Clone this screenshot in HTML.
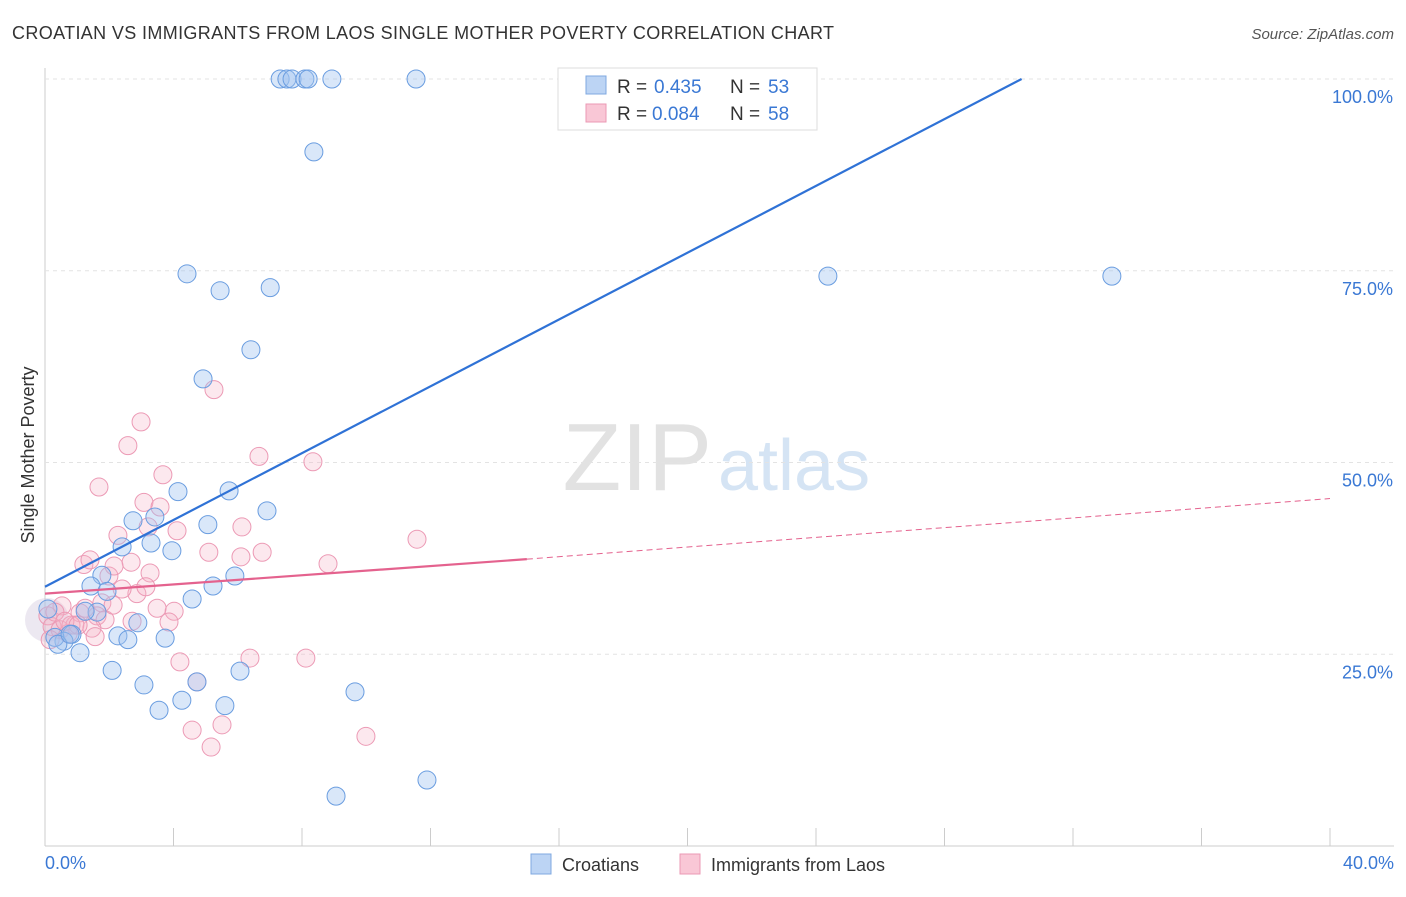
<!DOCTYPE html>
<html><head><meta charset="utf-8"><style>
body{margin:0;background:#fff;font-family:"Liberation Sans",sans-serif}
svg text{font-family:"Liberation Sans",sans-serif}
</style></head><body>
<svg id="c" width="1406" height="892">
<text x="12" y="39" font-size="18" fill="#333" textLength="822">CROATIAN VS IMMIGRANTS FROM LAOS SINGLE MOTHER POVERTY CORRELATION CHART</text>
<text x="1394" y="39" font-size="15" fill="#555" text-anchor="end" font-style="italic">Source: ZipAtlas.com</text>
<text x="712" y="490" font-size="96" fill="#e2e2e2" text-anchor="end" font-family="Liberation Serif">ZIP</text>
<text x="718" y="490" font-size="72" fill="#d5e4f4">atlas</text>
<g id="grid"></g><g id="pts"></g><g id="lines"></g>
<text x="34" y="455" font-size="18" fill="#333" text-anchor="middle" transform="rotate(-90 34 455)">Single Mother Poverty</text>
<text x="45" y="869" font-size="18" fill="#3a78d4">0.0%</text>
<text x="1394" y="869" font-size="18" fill="#3a78d4" text-anchor="end">40.0%</text>
<g>
<rect x="558" y="68" width="259" height="62" fill="#fff" stroke="#ddd"/>
<rect x="586" y="76" width="20" height="18" fill="#bcd4f4" stroke="#7fa8e0"/>
<rect x="586" y="104" width="20" height="18" fill="#f9c7d6" stroke="#eb9ab4"/>
<text x="617" y="93" font-size="19" fill="#333">R =</text>
<text x="654" y="93" font-size="19" fill="#3a78d4">0.435</text>
<text x="730" y="93" font-size="19" fill="#333">N =</text>
<text x="768" y="93" font-size="19" fill="#3a78d4">53</text>
<text x="617" y="120" font-size="19" fill="#333">R =</text>
<text x="652" y="120" font-size="19" fill="#3a78d4">0.084</text>
<text x="730" y="120" font-size="19" fill="#333">N =</text>
<text x="768" y="120" font-size="19" fill="#3a78d4">58</text>
</g>
<g>
<rect x="531" y="854" width="20" height="20" fill="#bcd4f4" stroke="#7fa8e0"/>
<text x="562" y="871" font-size="18" fill="#333">Croatians</text>
<rect x="680" y="854" width="20" height="20" fill="#f9c7d6" stroke="#eb9ab4"/>
<text x="711" y="871" font-size="18" fill="#333">Immigrants from Laos</text>
</g>
</svg>
<script>
const yTicks=[25,50,75,100];
const xTicks=[0,4,8,12,16,20,24,28,32,36,40];
const blueX=[7.32,7.53,7.69,8.09,8.19,8.93,11.55,8.37,4.42,5.45,7.01,24.37,33.21,6.41,4.92,4.14,5.73,6.91,3.42,2.74,5.07,3.30,2.40,3.95,1.77,5.91,1.43,5.23,1.93,4.58,1.62,2.89,1.25,2.27,2.58,3.74,0.84,0.59,0.31,0.40,1.09,2.09,3.08,4.26,3.55,5.60,4.73,6.07,9.65,9.06,11.89,0.09,0.78];
const blueY=[100,100,100,100,100,100,100,90.5,74.6,72.4,72.8,74.3,74.3,64.7,60.9,46.2,46.3,43.7,42.9,42.4,41.9,39.5,39.0,38.5,35.3,35.2,33.9,33.9,33.2,32.2,30.5,29.1,30.6,27.4,26.9,27.1,27.6,26.7,27.2,26.3,25.2,22.9,21.0,19.0,17.7,18.3,21.4,22.8,20.1,6.5,8.6,30.9,27.6];
const pinkX=[2.99,5.26,2.58,1.68,3.67,6.66,8.34,3.08,4.11,6.13,3.21,3.58,2.27,5.10,6.76,1.21,1.40,2.68,6.10,8.81,11.58,1.99,2.15,3.27,2.86,3.14,1.77,3.49,4.02,1.09,1.62,3.86,2.71,1.87,0.93,1.46,1.56,0.09,0.22,0.47,0.72,0.81,4.20,6.38,8.12,4.73,4.58,5.51,5.17,9.99,0.53,0.31,1.25,0.62,0.16,2.12,1.03,2.40];
const pinkY=[55.3,59.5,52.2,46.8,48.4,50.8,50.1,44.8,41.1,41.6,41.6,44.2,40.5,38.3,38.3,36.7,37.3,37.0,37.7,36.8,40.0,35.2,36.5,35.6,32.9,33.8,31.7,31.0,30.6,30.4,30.0,29.2,29.3,29.5,28.8,28.4,27.3,30.0,28.6,28.2,27.7,28.8,24.0,24.5,24.5,21.4,15.1,15.8,12.9,14.3,31.3,30.5,31.0,29.3,26.9,31.4,28.8,33.5];
const X=v=>45+v/40*1285, Y=v=>846-v/100*767;
const ns="http://www.w3.org/2000/svg";
function mk(t,a,p){const e=document.createElementNS(ns,t);for(const k in a)e.setAttribute(k,a[k]);p.appendChild(e);return e;}
const g=document.getElementById('grid');
mk('line',{x1:45,y1:68,x2:45,y2:846,stroke:'#ccc'},g);
mk('line',{x1:45,y1:846,x2:1394,y2:846,stroke:'#ccc'},g);
yTicks.forEach(t=>{const l=mk('line',{x1:45,y1:Y(t),x2:1394,y2:Y(t),stroke:'#e3e3e3','stroke-dasharray':'4 4'},g);


const tx=mk('text',{x:1393,y:Y(t)+24,'font-size':18,fill:'#3a78d4','text-anchor':'end'},g);tx.textContent=t.toFixed(1)+'%';

});
xTicks.forEach(t=>{const l=mk('line',{x1:X(t),y1:828,x2:X(t),y2:846,stroke:'#ccc'},g);

});
const p=document.getElementById('pts');
mk('circle',{cx:47,cy:620,r:22,fill:'rgba(200,190,215,0.35)'},p);
pinkX.forEach((v,i)=>{const c=mk('circle',{cx:X(v),cy:Y(pinkY[i]),r:9,fill:'rgba(246,180,200,0.3)',stroke:'#ec9ab5','stroke-width':1},p);

});
blueX.forEach((v,i)=>{const c=mk('circle',{cx:X(v),cy:Y(blueY[i]),r:9,fill:'rgba(160,195,240,0.4)',stroke:'#6a9de0','stroke-width':1},p);

});
const L=document.getElementById('lines');
let e=mk('line',{x1:X(0),y1:Y(33.8),x2:X(30.4),y2:Y(100),stroke:'#2f72d6','stroke-width':2.2},L);


e=mk('line',{x1:X(0),y1:Y(32.9),x2:X(15),y2:Y(37.4),stroke:'#e4628e','stroke-width':2.2},L);


e=mk('line',{x1:X(15),y1:Y(37.4),x2:X(40),y2:Y(45.3),stroke:'#e4628e','stroke-width':1,'stroke-dasharray':'6 4'},L);


</script>
</body></html>
